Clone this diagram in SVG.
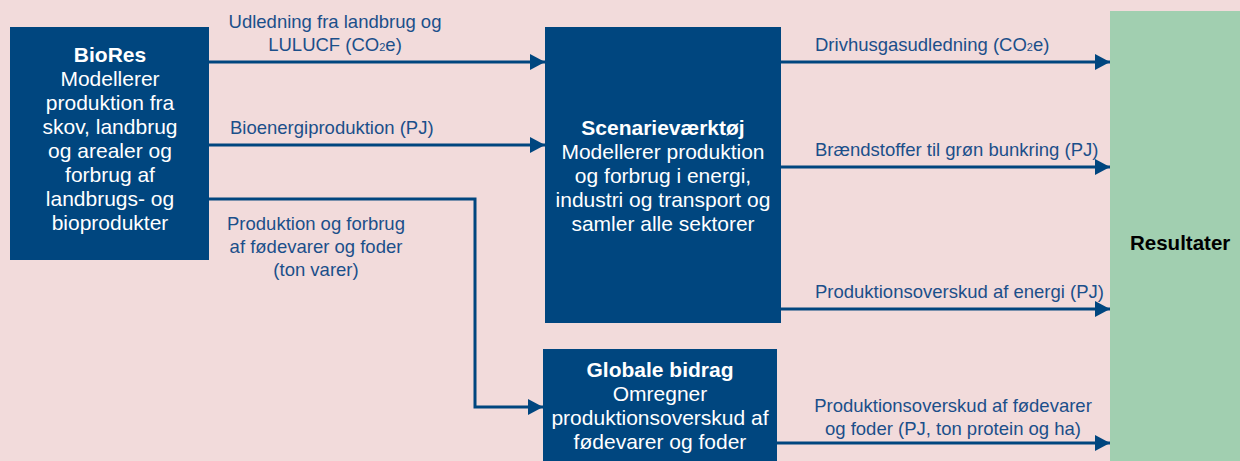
<svg xmlns="http://www.w3.org/2000/svg" width="1240" height="461" viewBox="0 0 1240 461">
<defs>
<marker id="ah" markerWidth="15" markerHeight="16" refX="15" refY="8" orient="auto" markerUnits="userSpaceOnUse" viewBox="0 0 15 16">
<path d="M0,0 L15,8 L0,16 z" fill="#00467f"/>
</marker>
<style>
.box{fill:#00467f}
.bt{font-family:"Liberation Sans",Arial,sans-serif;font-size:21px;fill:#ffffff;text-anchor:middle}
.bb{font-weight:bold}
.lb{font-family:"Liberation Sans",Arial,sans-serif;font-size:18.5px;fill:#1b4f8a}
.ln{fill:none;stroke:#00467f;stroke-width:3;marker-end:url(#ah)}
</style>
</defs>
<rect x="0" y="0" width="1240" height="461" fill="#f2dbdb"/>
<g id="resultater">
<rect x="1110" y="11" width="130" height="450" fill="#a1cfb0"/>
<text x="1130" y="250" font-family="Liberation Sans,Arial,sans-serif" font-size="20.5" font-weight="bold" fill="#000">Resultater</text>
</g>
<g id="biores">
<rect class="box" x="10" y="27" width="199" height="233"/>
<text class="bt"><tspan class="bb" x="110" y="62">BioRes</tspan><tspan x="110" y="86">Modellerer</tspan><tspan x="110" y="110">produktion fra</tspan><tspan x="110" y="134">skov, landbrug</tspan><tspan x="110" y="158">og arealer og</tspan><tspan x="110" y="182">forbrug af</tspan><tspan x="110" y="206">landbrugs- og</tspan><tspan x="110" y="230">bioprodukter</tspan></text>
</g>
<g id="scenarie">
<rect class="box" x="545" y="27" width="236" height="296"/>
<text class="bt"><tspan class="bb" x="663" y="135">Scenarieværktøj</tspan><tspan x="663" y="159">Modellerer produktion</tspan><tspan x="663" y="183">og forbrug i energi,</tspan><tspan x="663" y="207">industri og transport og</tspan><tspan x="663" y="231">samler alle sektorer</tspan></text>
</g>
<g id="globale">
<rect class="box" x="543" y="349" width="234" height="112"/>
<text class="bt"><tspan class="bb" x="660" y="377">Globale bidrag</tspan><tspan x="660" y="401">Omregner</tspan><tspan x="660" y="425">produktionsoverskud af</tspan><tspan x="660" y="449">fødevarer og foder</tspan></text>
</g>
<g id="connectors">
<path class="ln" d="M209,62 H545"/>
<path class="ln" d="M209,145 H545"/>
<path class="ln" d="M209,199 H475 V407 H543"/>
<path class="ln" d="M781,62 H1110"/>
<path class="ln" d="M781,167 H1110"/>
<path class="ln" d="M781,309 H1110"/>
<path class="ln" d="M777,443 H1110"/>
<text class="lb" text-anchor="middle"><tspan x="335" y="28">Udledning fra landbrug og</tspan><tspan x="335" y="51">LULUCF (CO<tspan font-size="11">2</tspan>e)</tspan></text>
<text class="lb" x="230" y="134">Bioenergiproduktion (PJ)</text>
<text class="lb" text-anchor="middle"><tspan x="316" y="230">Produktion og forbrug</tspan><tspan x="316" y="253">af fødevarer og foder</tspan><tspan x="316" y="276">(ton varer)</tspan></text>
<text class="lb" x="815" y="51">Drivhusgasudledning (CO<tspan font-size="11">2</tspan>e)</text>
<text class="lb" x="815" y="156">Brændstoffer til grøn bunkring (PJ)</text>
<text class="lb" x="815" y="298">Produktionsoverskud af energi (PJ)</text>
<text class="lb" text-anchor="middle"><tspan x="953" y="412">Produktionsoverskud af fødevarer</tspan><tspan x="953" y="435">og foder (PJ, ton protein og ha)</tspan></text>
</g>
</svg>
